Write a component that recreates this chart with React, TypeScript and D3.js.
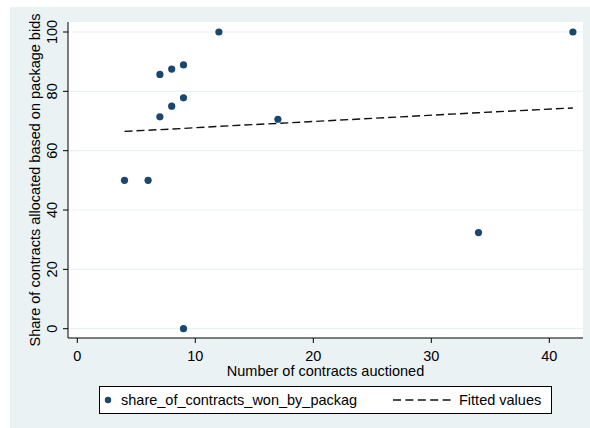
import React from 'react';
import * as d3 from 'd3';

// contracts auctioned vs share allocated on package bids
const contracts = [4, 6, 7, 7, 8, 8, 9, 9, 9, 12, 17, 34, 42];
const shares = [50, 50, 71.4, 85.7, 75, 87.5, 77.8, 88.9, 0, 100, 70.6, 32.4, 100];

// fitted values (linear fit) at each distinct x
const fitX = [4, 6, 7, 8, 9, 12, 17, 34, 42];
const fitY = [66.5, 66.9, 67.1, 67.3, 67.5, 68.2, 69.2, 72.8, 74.4];

const xTicks = [0, 10, 20, 30, 40];
const yTicks = [0, 20, 40, 60, 80, 100];

const W = 590;
const H = 428;
const FONT = '"Liberation Sans", Arial, sans-serif';
const navy = '#1a476f';
const bg = '#eaf2f3';

export default function App() {
  const plot = {left: 68, right: 583, top: 22, bottom: 338};

  const x = d3.scaleLinear().domain([0, 40]).range([77.3, 549.3]);
  const y = d3.scaleLinear().domain([0, 100]).range([328.7, 32]);

  const line = d3.line<number>()
    .x(d => x(fitX[d]))
    .y(d => y(fitY[d]));

  const midX = (plot.left + plot.right) / 2;
  const midY = (plot.top + plot.bottom) / 2;

  return (
    <svg width={W} height={H} style={{position: 'absolute', left: 0, top: 0}} fontFamily={FONT}>
      <rect x={10} y={7} width={W - 10} height={H - 7} fill={bg} />
      <rect x={plot.left} y={plot.top} width={plot.right - plot.left} height={plot.bottom - plot.top} fill="white" />

      {/* grid */}
      {yTicks.map(t => (
        <line key={'g' + t} x1={plot.left} x2={plot.right} y1={y(t)} y2={y(t)} stroke={bg} strokeWidth={1.2} />
      ))}

      {/* axes */}
      <line x1={plot.left} x2={plot.left} y1={plot.top} y2={plot.bottom} stroke="black" strokeWidth={1} />
      <line x1={plot.left} x2={plot.right} y1={plot.bottom} y2={plot.bottom} stroke="black" strokeWidth={1} />

      {yTicks.map(t => (
        <g key={'y' + t}>
          <line x1={plot.left - 5} x2={plot.left} y1={y(t)} y2={y(t)} stroke="black" />
          <text transform={`translate(57,${y(t)}) rotate(-90)`} textAnchor="middle" fontSize={14.5} fill="black">{t}</text>
        </g>
      ))}
      {xTicks.map(t => (
        <g key={'x' + t}>
          <line x1={x(t)} x2={x(t)} y1={plot.bottom} y2={plot.bottom + 5} stroke="black" />
          <text x={x(t)} y={360.5} textAnchor="middle" fontSize={14.5} fill="black">{t}</text>
        </g>
      ))}

      <text x={midX} y={376} textAnchor="middle" fontSize={14.5} fill="black">Number of contracts auctioned</text>
      <text transform={`translate(40,${midY}) rotate(-90)`} textAnchor="middle" fontSize={14.5} fill="black">
        Share of contracts allocated based on package bids
      </text>

      {/* fitted line */}
      <path d={line(d3.range(fitX.length)) || ''} fill="none" stroke="#111" strokeWidth={1.4} strokeDasharray="8,4" />

      {/* points */}
      {contracts.map((c, i) => (
        <circle key={i} cx={x(c)} cy={y(shares[i])} r={3.6} fill={navy} />
      ))}

      {/* legend */}
      <rect x={99.5} y={386.5} width={452} height={27} fill="white" stroke="black" strokeWidth={1} />
      <circle cx={108} cy={400} r={3.2} fill={navy} />
      <text x={121} y={405} fontSize={14.5} fill="black">share_of_contracts_won_by_packag</text>
      <line x1={393} x2={451} y1={400} y2={400} stroke="#111" strokeWidth={1.4} strokeDasharray="8,4.4" />
      <text x={459} y={405} fontSize={14.5} fill="black">Fitted values</text>
    </svg>
  );
}
